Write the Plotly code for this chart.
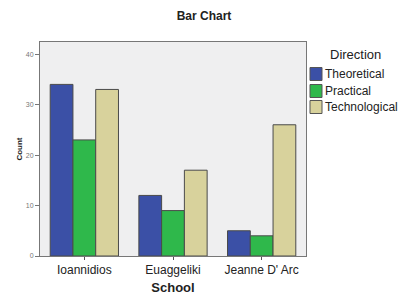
import plotly.graph_objects as go

schools = ["Ioannidios", "Euaggeliki", "Jeanne D' Arc"]
theoretical = [34, 12, 5]
practical = [23, 9, 4]
technological = [33, 17, 26]
series_names = ["Theoretical", "Practical", "Technological"]
colors = ["#3b50a6", "#2fb84b", "#d8d29c"]

fig = go.Figure()
for name, vals, c in zip(series_names, [theoretical, practical, technological], colors):
    fig.add_trace(go.Bar(x=schools, y=vals, name=name, showlegend=False,
                         marker=dict(color=c, line=dict(color="#4a4a4a", width=1))))

# manual legend (SPSS-style compact)
L, R, T, B = 40, 94, 42, 41
pw, ph = 400 - L - R, 297 - T - B
def px(x): return (x - L) / pw
def py(y): return (297 - B - y) / ph

shapes, annos = [], []
row_y = [74, 91, 107]
for name, c, yy in zip(series_names, colors, row_y):
    shapes.append(dict(type="rect", xref="paper", yref="paper", x0=px(310), x1=px(322),
                       y0=py(yy + 6.5), y1=py(yy - 6.5), fillcolor=c, line=dict(color="#555", width=1)))
    annos.append(dict(text=name, xref="paper", yref="paper", x=px(322.5), y=py(yy), xanchor="left",
                      yanchor="middle", showarrow=False, font=dict(size=12, color="#222")))
annos.append(dict(text="Direction", xref="paper", yref="paper", x=px(355), y=py(55), xanchor="center",
                  yanchor="middle", showarrow=False, font=dict(size=13, color="#222")))

fig.update_layout(
    width=400, height=297,
    barmode="group", bargap=0.23, bargroupgap=0,
    paper_bgcolor="white", plot_bgcolor="#efeff0",
    font=dict(family="Liberation Sans, Arial", color="#222"),
    title=dict(text="<b>Bar Chart</b>", x=0.51, xanchor="center", y=1 - 16 / 297, yanchor="middle",
               font=dict(size=12)),
    margin=dict(l=L, r=R, t=T, b=B, autoexpand=False),
    showlegend=False,
    shapes=shapes, annotations=annos,
    xaxis=dict(title=dict(text="<b>School</b>", font=dict(size=13), standoff=6), tickfont=dict(size=12),
               showline=True, linecolor="#777", ticks="outside", ticklen=3, tickcolor="#555", mirror=True,
               automargin=False),
    yaxis=dict(title=dict(text="<b>Count</b>", font=dict(size=8), standoff=2), range=[0, 42.4],
               tickvals=[0, 10, 20, 30, 40], tickfont=dict(size=7, color="#777"),
               showline=True, linecolor="#777", ticks="outside", ticklen=4, tickcolor="#777",
               showgrid=False, zeroline=False, mirror=True, automargin=False),
)
fig.write_html("out.html", config={"displayModeBar": False},
               post_script="document.body.style.margin='0';document.body.style.padding='0';")
